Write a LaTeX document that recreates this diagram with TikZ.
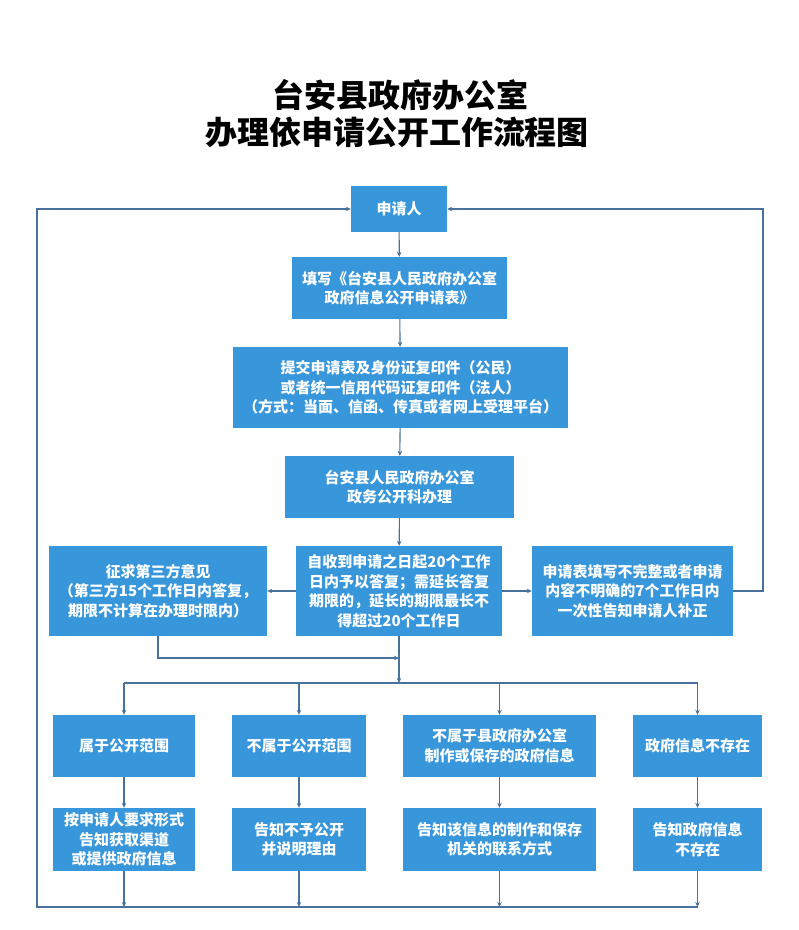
\documentclass[tikz,border=0pt]{standalone}
\usepackage{fontspec}
\usepackage{tikz}
\usetikzlibrary{arrows.meta}
\newfontfamily\cjk{Noto Sans CJK SC}
\definecolor{boxblue}{RGB}{56,150,219}
\definecolor{lineblue}{RGB}{72,114,155}

\begin{document}
\begin{tikzpicture}[x=1pt, y=-1pt,
    flowbox/.style={fill=boxblue, text=white, align=center, inner sep=0pt,
      font=\cjk\bfseries\fontsize{15}{19.5}\selectfont},
    link/.style={draw=lineblue, line width=1.1pt},
    arrow/.style={link, -{Stealth[length=5pt, width=4.5pt]}}]

    % Page size
    \useasboundingbox (0,0) rectangle (799,930);

    % Title
    \node[font=\cjk\bfseries\fontsize{32}{36}\selectfont] (title1) at (400,95) {台安县政府办公室};
    \node[font=\cjk\bfseries\fontsize{32}{36}\selectfont] (title2) at (397,132) {办理依申请公开工作流程图};

    % Main column
    \node[flowbox, minimum width=96pt, minimum height=46pt] (app) at (399,209) {申请人};
    \node[flowbox, minimum width=215pt, minimum height=62pt] (form) at (399.5,288) {填写《台安县人民政府办公室\\政府信息公开申请表》};
    \node[flowbox, minimum width=335pt, minimum height=81pt] (submit) at (400.5,387.5) {提交申请表及身份证复印件（公民）\\或者统一信用代码证复印件（法人）\\（方式：当面、信函、传真或者网上受理平台）};
    \node[flowbox, minimum width=229pt, minimum height=62pt] (office) at (399.5,487) {台安县人民政府办公室\\政务公开科办理};

    % Middle row
    \node[flowbox, minimum width=218pt, minimum height=90pt] (third) at (158,591) {征求第三方意见\\（第三方15个工作日内答复，\\期限不计算在办理时限内）};
    \node[flowbox, minimum width=206pt, minimum height=90pt] (reply) at (399,591) {自收到申请之日起20个工作\\日内予以答复；需延长答复\\期限的，延长的期限最长不\\得超过20个工作日};
    \node[flowbox, minimum width=201pt, minimum height=90pt] (notice) at (632.5,591) {申请表填写不完整或者申请\\内容不明确的7个工作日内\\一次性告知申请人补正};

    % Four cases
    \node[flowbox, minimum width=142pt, minimum height=62pt] (caseA) at (124,746) {属于公开范围};
    \node[flowbox, minimum width=134pt, minimum height=62pt] (caseB) at (299,746) {不属于公开范围};
    \node[flowbox, minimum width=193pt, minimum height=62pt] (caseC) at (499.5,746) {不属于县政府办公室\\制作或保存的政府信息};
    \node[flowbox, minimum width=129pt, minimum height=62pt] (caseD) at (697.5,746) {政府信息不存在};

    % Four answers
    \node[flowbox, minimum width=142pt, minimum height=63pt] (ansA) at (124,839.5) {按申请人要求形式\\告知获取渠道\\或提供政府信息};
    \node[flowbox, minimum width=134pt, minimum height=63pt] (ansB) at (299,839.5) {告知不予公开\\并说明理由};
    \node[flowbox, minimum width=193pt, minimum height=63pt] (ansC) at (499.5,839.5) {告知该信息的制作和保存\\机关的联系方式};
    \node[flowbox, minimum width=129pt, minimum height=63pt] (ansD) at (697.5,839.5) {告知政府信息\\不存在};

    % Helper points
    \coordinate (merge) at (399,658);
    \coordinate (bus) at (399,683);
    \coordinate (busL) at (124,683);
    \coordinate (busR) at (697.5,683);
    \coordinate (floorL) at (37,907);
    \coordinate (floorR) at (697.5,907);
    \coordinate (sideR) at (763,591);

    % Main column arrows
    \draw[arrow] (app) -- (form);
    \draw[arrow] (form) -- (submit);
    \draw[arrow] (submit) -- (office);
    \draw[arrow] (office) -- (reply);
    \draw[arrow] (reply) -- (third);
    \draw[arrow] (reply) -- (notice);

    % Merge to the bus
    \draw[arrow] (third.south) |- (merge);
    \draw[arrow] (reply.south) -- (bus);
    \draw[link] (busL) -- (busR);
    \foreach \c in {A,B,C,D} {
        \draw[arrow] (busL -| case\c) -- (case\c);
        \draw[arrow] (case\c) -- (ans\c);
        \draw[arrow] (ans\c.south) -- (floorL -| ans\c);
    }

    % Return lines to the applicant
    \draw[arrow] (floorR) -- (floorL) |- (app.west);
    \draw[arrow] (notice.east) -- (sideR) |- (app.east);
\end{tikzpicture}
\end{document}
